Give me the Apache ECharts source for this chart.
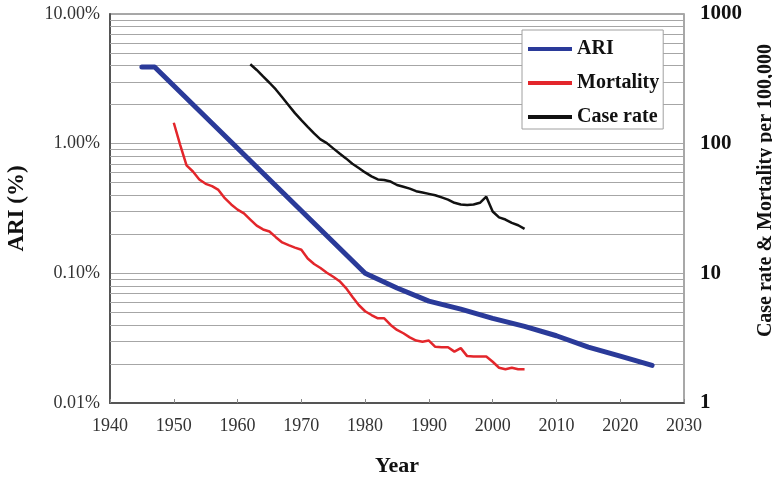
<!DOCTYPE html>
<html>
<head>
<meta charset="utf-8">
<script src="https://cdn.jsdelivr.net/npm/echarts@6/dist/echarts.min.js"></script>
<style>
  html, body { margin: 0; padding: 0; background: #fff; }
  #chart { width: 772px; height: 478px; }
</style>
</head>
<body>
<div id="chart"></div>
<script>
// Annual risk of infection (%) — left axis
const ariYears = [1945, 1947, 1980, 1985, 1990, 1995, 2000, 2005, 2010, 2015, 2020, 2025];
const ariValues = [3.9, 3.9, 0.1, 0.077, 0.061, 0.053, 0.045, 0.039, 0.033, 0.027, 0.023, 0.0195];

// Mortality per 100,000 — right axis
const mortalityYears = [
  1950, 1951, 1952, 1953, 1954, 1955, 1956, 1957, 1958, 1959,
  1960, 1961, 1962, 1963, 1964, 1965, 1966, 1967, 1968, 1969,
  1970, 1971, 1972, 1973, 1974, 1975, 1976, 1977, 1978, 1979,
  1980, 1981, 1982, 1983, 1984, 1985, 1986, 1987, 1988, 1989,
  1990, 1991, 1992, 1993, 1994, 1995, 1996, 1997, 1998, 1999,
  2000, 2001, 2002, 2003, 2004, 2005
];
const mortalityValues = [
  145, 98, 68, 61, 53, 49, 47, 44, 38, 34,
  31, 29, 26, 23.3, 21.8, 21, 19, 17.3, 16.5, 15.8,
  15.2, 13, 11.8, 11, 10.1, 9.4, 8.7, 7.7, 6.6, 5.7,
  5.1, 4.77, 4.5, 4.5, 4.0, 3.66, 3.45, 3.21, 3.03, 2.97,
  3.03, 2.71, 2.69, 2.69, 2.49, 2.65, 2.3, 2.28, 2.28, 2.28,
  2.08, 1.87, 1.82, 1.87, 1.82, 1.82
];

// Case rate per 100,000 — right axis
const caseYears = [
  1962, 1963, 1964, 1965, 1966, 1967, 1968, 1969, 1970, 1971,
  1972, 1973, 1974, 1975, 1976, 1977, 1978, 1979, 1980, 1981,
  1982, 1983, 1984, 1985, 1986, 1987, 1988, 1989, 1990, 1991,
  1992, 1993, 1994, 1995, 1996, 1997, 1998, 1999, 2000, 2001,
  2002, 2003, 2004, 2005
];
const caseValues = [
  410, 370, 330, 295, 262, 228, 198, 172, 152, 135,
  120, 108, 101, 92, 84, 77, 70, 65, 60, 56,
  53, 52.5, 51, 48, 46.5, 45, 43, 42, 41, 40,
  38.5, 37, 35, 34, 33.7, 34, 35, 39, 30, 27,
  26, 24.5, 23.5, 22
];

// Axis ranges
const xTicks = { min: 1940, max: 2030, step: 10 };
const leftTicks = { min: 0.01, max: 10 };
const rightTicks = { min: 1, max: 1000 };
// Intermediate log grid lines (2..9 within each decade of the left axis)
const minorGrid = [];
[0.01, 0.1, 1].forEach(function (d) {
  for (let k = 2; k <= 9; k++) minorGrid.push(+(d * k).toFixed(4));
});

const pairs = (xs, ys) => xs.map((x, i) => [x, ys[i]]);
const serif = '"Liberation Serif", "Times New Roman", serif';

const chart = echarts.init(document.getElementById('chart'), null, { renderer: 'canvas' });

chart.setOption({
  animation: false,
  backgroundColor: '#ffffff',
  textStyle: { fontFamily: serif },
  grid: {
    left: 110, right: 88, top: 14, bottom: 75,
    containLabel: false,
    outerBoundsMode: 'none',
    show: true, borderColor: '#8c8c8c', borderWidth: 1.5
  },
  legend: {
    orient: 'vertical',
    left: 522, top: 30,
    padding: [9, 4, 2, 6],
    itemGap: 14,
    itemWidth: 44, itemHeight: 4,
    icon: 'rect',
    backgroundColor: '#ffffff',
    borderColor: '#a0a0a0', borderWidth: 1,
    textStyle: { fontFamily: serif, fontSize: 20, fontWeight: 'bold', color: '#111' },
    data: ['ARI', 'Mortality', 'Case rate']
  },
  xAxis: {
    type: 'value',
    min: xTicks.min, max: xTicks.max, interval: xTicks.step,
    name: 'Year',
    nameLocation: 'middle',
    nameGap: 52,
    nameTextStyle: { fontFamily: serif, fontSize: 22, fontWeight: 'bold', color: '#111' },
    axisLine: { show: true, lineStyle: { color: '#555', width: 2 } },
    axisTick: { show: true, inside: true, length: 4, lineStyle: { color: '#888', width: 1 } },
    axisLabel: { fontFamily: serif, fontSize: 18, color: '#333', margin: 14, formatter: v => String(v) },
    splitLine: { show: false }
  },
  yAxis: [
    {
      type: 'log', logBase: 10,
      min: leftTicks.min, max: leftTicks.max,
      name: 'ARI (%)',
      nameLocation: 'middle',
      nameGap: 81,
      nameRotate: 90,
      nameTextStyle: { fontFamily: serif, fontSize: 23, fontWeight: 'bold', color: '#111' },
      axisLine: { show: true, lineStyle: { color: '#555', width: 2 } },
      axisTick: { show: false },
      axisLabel: {
        fontFamily: serif, fontSize: 18, color: '#333', margin: 10,
        formatter: v => Number(v).toFixed(2) + '%'
      },
      splitLine: { show: true, lineStyle: { color: '#a6a6a6', width: 1.2 } }
    },
    {
      type: 'log', logBase: 10,
      min: rightTicks.min, max: rightTicks.max,
      position: 'right',
      name: 'Case rate & Mortality per 100,000',
      nameLocation: 'middle',
      nameGap: 72,
      nameRotate: 90,
      nameTextStyle: { fontFamily: serif, fontSize: 20, fontWeight: 'bold', color: '#111', padding: [0, 0, 0, 36] },
      axisLine: { show: false },
      axisTick: { show: false },
      axisLabel: {
        fontFamily: serif, fontSize: 21, fontWeight: 'bold', color: '#111', margin: 16,
        formatter: v => String(Math.round(v))
      },
      splitLine: { show: false }
    }
  ],
  series: [
    {
      name: 'Mortality',
      type: 'line',
      yAxisIndex: 1,
      showSymbol: false,
      symbol: 'none',
      data: pairs(mortalityYears, mortalityValues),
      lineStyle: { color: '#e3262b', width: 2.5 },
      itemStyle: { color: '#e3262b' },
      z: 3
    },
    {
      name: 'Case rate',
      type: 'line',
      yAxisIndex: 1,
      showSymbol: false,
      symbol: 'none',
      data: pairs(caseYears, caseValues),
      lineStyle: { color: '#111111', width: 2.5 },
      itemStyle: { color: '#111111' },
      z: 3
    },
    {
      name: 'ARI',
      type: 'line',
      yAxisIndex: 0,
      showSymbol: false,
      symbol: 'none',
      data: pairs(ariYears, ariValues),
      lineStyle: { color: '#2a3a99', width: 5, cap: 'round', join: 'round' },
      itemStyle: { color: '#2a3a99' },
      z: 4,
      markLine: {
        silent: true,
        symbol: ['none', 'none'],
        label: { show: false },
        lineStyle: { color: '#a6a6a6', width: 1.2, type: 'solid' },
        emphasis: { disabled: true },
        data: minorGrid.map(v => ({ yAxis: v })),
        z: 1
      }
    }
  ]
});
</script>
</body>
</html>
